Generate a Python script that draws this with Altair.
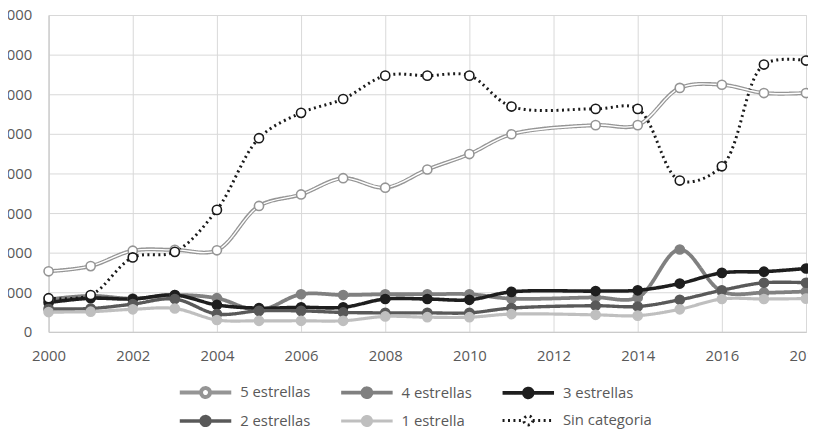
import altair as alt
import pandas as pd

years = [2000, 2001, 2002, 2003, 2004, 2005, 2006, 2007, 2008, 2009, 2010, 2011,
         2013, 2014, 2015, 2016, 2017, 2018]
series = ["5 estrellas", "4 estrellas", "3 estrellas", "2 estrellas", "1 estrella", "Sin categoria"]

five = [1530, 1660, 2050, 2070, 2060, 3180, 3470, 3880, 3640, 4100, 4490, 4990,
        5220, 5220, 6160, 6240, 6030, 6030]
four = [820, 910, 840, 930, 850, 550, 950, 930, 950, 950, 950, 840,
        870, 870, 2080, 1020, 990, 1020]
three = [740, 850, 830, 930, 680, 600, 620, 620, 830, 830, 810, 1010,
         1030, 1050, 1220, 1490, 1520, 1600]
two = [580, 590, 700, 830, 450, 530, 530, 490, 480, 480, 480, 600,
       660, 640, 810, 1050, 1240, 1240]
one = [500, 510, 570, 590, 300, 280, 280, 280, 390, 370, 370, 450,
       430, 410, 570, 830, 830, 840]
sin = [850, 930, 1880, 2020, 3080, 4890, 5530, 5880, 6470, 6470, 6470, 5690,
       5630, 5630, 3820, 4180, 6750, 6850]

y_ticks = [0, 1000, 2000, 3000, 4000, 5000, 6000, 7000, 8000]
x_ticks = [2000, 2002, 2004, 2006, 2008, 2010, 2012, 2014, 2016, 2018]

stroke_colors = ["#959595", "#808080", "#1e1e1e", "#595959", "#bfbfbf", "#1a1a1a"]
fill_colors = ["#ffffff", "#808080", "#1e1e1e", "#595959", "#bfbfbf", "#ffffff"]
dashes = [[1, 0], [1, 0], [1, 0], [1, 0], [1, 0], [2, 3.5]]
widths = [4, 3, 3, 3, 3, 2.5]

values = [five, four, three, two, one, sin]
rows = []
for name, vals in zip(series, values):
    for yr, v in zip(years, vals):
        rows.append({"year": yr, "serie": name, "value": v})
df = pd.DataFrame(rows)

FONT = "Open Sans"
GRAY = "#595959"
PATH = ("M-2.6,0L-0.45,0M0.45,0L2.6,0"
        "M0.45,0A0.45,0.45,0,1,1,-0.45,0A0.45,0.45,0,1,1,0.45,0Z")

legend = alt.Legend(
    title=None, orient="none", legendX=146.5, legendY=369,
    direction="horizontal", columns=3, columnPadding=22, rowPadding=4,
    symbolType=PATH, symbolSize=400, symbolStrokeWidth=2.5,
    labelOffset=23, labelFont=FONT, labelFontSize=15, labelColor=GRAY,
    padding=0,
)

x_enc = alt.X("year:Q",
              scale=alt.Scale(domain=[2000, 2018], nice=False, zero=False),
              axis=alt.Axis(values=x_ticks, format="d", title=None, ticks=False,
                            labelPadding=17, labelFlush=False, labelOverlap=False,
                            labelFont=FONT, labelFontSize=15, labelColor=GRAY,
                            domainColor="#c8c8c8", gridColor="#d9d9d9"))
y_enc = alt.Y("value:Q",
              scale=alt.Scale(domain=[0, 8000], nice=False),
              axis=alt.Axis(values=y_ticks, format="d", title=None, ticks=False,
                            labelPadding=17, labelFont=FONT, labelFontSize=15,
                            labelOverlap=False,
                            labelColor=GRAY, domainColor="#c8c8c8",
                            gridColor="#d9d9d9"))

stroke_scale = alt.Scale(domain=series, range=stroke_colors)
fill_scale = alt.Scale(domain=series, range=fill_colors)
dash_scale = alt.Scale(domain=series, range=dashes)
width_scale = alt.Scale(domain=series, range=widths)

base = alt.Chart(df)

lines = base.mark_line(interpolate="catmull-rom").encode(
    x=x_enc, y=y_enc,
    stroke=alt.Stroke("serie:N", scale=stroke_scale, legend=legend, sort=series),
    strokeDash=alt.StrokeDash("serie:N", scale=dash_scale, legend=legend, sort=series),
    strokeWidth=alt.StrokeWidth("serie:N", scale=width_scale, legend=None),
    order=alt.Order("year:Q"),
)

inner = base.transform_filter(alt.datum.serie == "5 estrellas").mark_line(
    interpolate="catmull-rom", color="#ffffff", strokeWidth=1.4
).encode(x=x_enc, y=y_enc, order=alt.Order("year:Q"))

points = base.mark_point(shape="circle", size=85, filled=True, strokeWidth=1.6, opacity=1).encode(
    x=x_enc, y=y_enc,
    fill=alt.Fill("serie:N", scale=fill_scale, legend=legend, sort=series),
    stroke=alt.Stroke("serie:N", scale=stroke_scale, legend=legend, sort=series),
)

chart = alt.layer(lines, inner, points).properties(
    width=765, height=320,
    autosize=alt.AutoSizeParams(type="none"),
    padding={"left": 41, "top": 5, "right": 2, "bottom": 96},
).configure_view(stroke=None).configure(background="#ffffff")

chart.save("out.html", embed_options={"renderer": "svg", "actions": False})
